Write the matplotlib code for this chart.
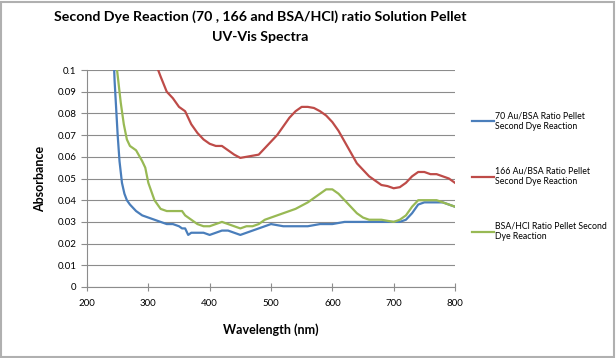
import matplotlib
matplotlib.use("Agg")
import matplotlib.pyplot as plt
from matplotlib.patches import Rectangle

# wavelength (nm) and absorbance
wl_70 = [240, 245, 250, 253, 257, 261, 265, 270, 280, 290, 300, 310, 320, 330, 340,
         350, 355, 360, 365, 370, 380, 390, 400, 410, 420, 430, 440, 450, 460, 470,
         480, 490, 500, 520, 540, 560, 580, 600, 620, 640, 660, 680, 700, 710, 720,
         730, 740, 750, 760, 770, 780, 790, 800]
abs_70 = [0.13, 0.095, 0.070, 0.058, 0.048, 0.043, 0.040, 0.038, 0.035, 0.033, 0.032,
          0.031, 0.030, 0.029, 0.029, 0.028, 0.027, 0.027, 0.024, 0.025, 0.025, 0.025,
          0.024, 0.025, 0.026, 0.026, 0.025, 0.024, 0.025, 0.026, 0.027, 0.028, 0.029,
          0.028, 0.028, 0.028, 0.029, 0.029, 0.030, 0.030, 0.030, 0.030, 0.030, 0.030,
          0.031, 0.034, 0.038, 0.039, 0.039, 0.039, 0.039, 0.038, 0.037]

wl_166 = [310, 316, 320, 330, 340, 350, 355, 360, 365, 370, 380, 390, 400, 410, 420,
          430, 440, 450, 460, 470, 480, 490, 500, 510, 520, 530, 540, 550, 560, 570,
          580, 590, 600, 610, 620, 630, 640, 650, 660, 670, 680, 690, 700, 710, 720,
          730, 740, 750, 760, 770, 780, 790, 800]
abs_166 = [0.104, 0.100, 0.097, 0.090, 0.087, 0.083, 0.082, 0.081, 0.078, 0.075, 0.071,
           0.068, 0.066, 0.065, 0.065, 0.063, 0.061, 0.0595, 0.060, 0.0605, 0.061, 0.064,
           0.067, 0.070, 0.074, 0.078, 0.081, 0.083, 0.083, 0.0825, 0.081, 0.079, 0.076,
           0.072, 0.067, 0.062, 0.057, 0.054, 0.051, 0.049, 0.047, 0.0465, 0.0455, 0.046,
           0.048, 0.051, 0.053, 0.053, 0.052, 0.052, 0.051, 0.050, 0.048]

wl_bsa = [245, 249, 255, 260, 265, 270, 280, 290, 295, 300, 310, 320, 330, 340, 350,
          355, 360, 370, 380, 390, 400, 410, 420, 430, 440, 450, 460, 470, 480, 490,
          500, 520, 540, 560, 580, 590, 600, 610, 620, 630, 640, 650, 660, 680, 700,
          710, 720, 730, 740, 750, 760, 770, 780, 790, 800]
abs_bsa = [0.12, 0.100, 0.085, 0.075, 0.068, 0.065, 0.063, 0.058, 0.055, 0.048, 0.040,
           0.036, 0.035, 0.035, 0.035, 0.035, 0.033, 0.031, 0.029, 0.028, 0.028, 0.029,
           0.030, 0.029, 0.028, 0.027, 0.028, 0.028, 0.029, 0.031, 0.032, 0.034, 0.036,
           0.039, 0.043, 0.045, 0.045, 0.043, 0.040, 0.037, 0.034, 0.032, 0.031, 0.031,
           0.030, 0.031, 0.033, 0.037, 0.040, 0.040, 0.040, 0.040, 0.039, 0.038, 0.037]

labels = ["70 Au/BSA Ratio Pellet\nSecond Dye Reaction",
          "166 Au/BSA Ratio Pellet\nSecond Dye Reaction",
          "BSA/HCl Ratio Pellet Second\nDye Reaction"]
colors = ["#4A7EBB", "#BE4B48", "#98B954"]

plt.rcParams['font.family'] = ['Lato', 'DejaVu Sans']

fig = plt.figure(figsize=(6.16, 3.58), dpi=100)
ax = fig.add_axes([87/616, 71/358, 368/616, 217/358])

ax.plot(wl_70, abs_70, color=colors[0], lw=1.6, label=labels[0])
ax.plot(wl_166, abs_166, color=colors[1], lw=1.6, label=labels[1])
ax.plot(wl_bsa, abs_bsa, color=colors[2], lw=1.6, label=labels[2])

ax.set_xlim(200, 800)
ax.set_ylim(0, 0.1)
ax.set_xticks(range(200, 801, 100))
ax.set_yticks([i / 100 for i in range(11)])
ax.set_yticklabels(["0"] + ["%.2f" % (i / 100) for i in range(1, 10)] + ["0.1"])
ax.grid(axis='y', color='#8c8c8c', lw=0.8)
ax.set_axisbelow(True)
for s in ['top', 'right']:
    ax.spines[s].set_visible(False)
ax.spines['left'].set_color('#8c8c8c')
ax.spines['bottom'].set_color('#8c8c8c')
ax.tick_params(axis='both', labelsize=7, color='#8c8c8c', length=4, width=0.8)
ax.tick_params(axis='x', direction='inout', length=6, pad=6)
ax.set_xlabel("Wavelength (nm)", fontsize=9, fontweight='bold', labelpad=11)
ax.set_ylabel("Absorbance", fontsize=9, fontweight='bold', labelpad=8)

fig.suptitle("Second Dye Reaction (70 , 166 and BSA/HCl) ratio Solution Pellet\nUV-Vis Spectra",
             x=0.423, y=0.97, fontsize=10.2, fontweight='bold', linespacing=1.75)

ax.legend(loc='center left', bbox_to_anchor=(1.025, 0.51), frameon=False, fontsize=6.3,
          handlelength=2.5, handletextpad=0.1, labelspacing=4.1)

fig.patches.append(Rectangle((0.002, 0.003), 0.994, 0.992, transform=fig.transFigure,
                             fill=False, edgecolor='#b0b0b0', lw=1.5))

fig.savefig("out.png", dpi=100)
